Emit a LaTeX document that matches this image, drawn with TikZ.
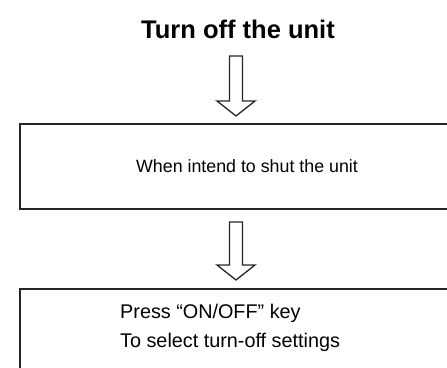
\documentclass[tikz,border=0pt]{standalone}
\usepackage{fontspec}
\setmainfont{Liberation Sans}
\usetikzlibrary{positioning,calc}

% hollow block arrow from shaft top #1 to tip #2
\newcommand{\blockarrow}[2]{%
  \draw[hollow] ($(#1)+(-6.5,0)$) -- ($(#2)+(-6.5,15)$) -- ($(#2)+(-19,15)$)
    -- (#2) -- ($(#2)+(19,15)$) -- ($(#2)+(6.5,15)$) -- ($(#1)+(6.5,0)$) -- cycle;}

\begin{document}
\begin{tikzpicture}[x=1pt, y=1pt,
  title/.style={font=\fontsize{25.5}{30}\selectfont\bfseries, inner sep=0pt},
  stepbox/.style={draw=black!85, line width=2pt, minimum width=455pt,
                  anchor=north west, inner sep=0pt,
                  font=\fontsize{17.8}{28}\selectfont},
  msg/.style={font=\fontsize{19.8}{29}\selectfont, align=left, inner sep=0pt},
  hollow/.style={draw=black!85, line width=1.3pt, fill=white, line join=miter},
]
\useasboundingbox (0,0) rectangle (447,-367);
\clip (0,0) rectangle (447,-367);

% ---- title ----
\node[title] (ttl) at (238,-29) {Turn off the unit};

% ---- steps ----
\node[stepbox, minimum height=85pt] (when) at (18.5,-123)
  {When intend to shut the unit};
\node[stepbox, minimum height=100pt] (press) at (18.5,-288) {};
\node[msg, anchor=west] (presstxt) at (120,-327.5)
  {Press “ON/OFF” key\\To select turn-off settings};

% ---- arrows ----
\coordinate (a1s) at (236,-56);
\coordinate (a1e) at (236,-116);
\coordinate (a2s) at (236,-222);
\coordinate (a2e) at (236,-280);
\blockarrow{a1s}{a1e}
\blockarrow{a2s}{a2e}
\end{tikzpicture}
\end{document}
